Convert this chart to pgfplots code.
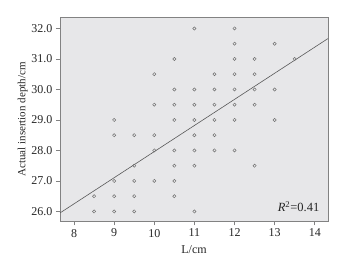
\documentclass[border=0pt]{standalone}
\usepackage{fontspec}
\setmainfont{Liberation Serif}
\usepackage{pgfplots}
\pgfplotsset{compat=1.18}
\definecolor{bg}{RGB}{231,231,233}
\definecolor{fr}{RGB}{130,130,130}
\definecolor{pt}{RGB}{110,110,110}
\begin{document}
\begin{tikzpicture}[x=1pt,y=1pt]
\begin{axis}[
  scale only axis,
  width=268pt, height=204pt,
  xmin=7.65, xmax=14.33,
  ymin=25.67, ymax=32.36,
  xtick={8,9,...,14},
  ytick={26,27,...,32},
  yticklabel style={/pgf/number format/.cd,fixed,fixed zerofill,precision=1},
  /pgf/number format/assume math mode=true,
  tick align=outside,
  tick pos=left,
  major tick length=4pt,
  tick style={fr, line width=0.6pt},
  axis line style={fr, line width=0.7pt},
  axis background/.style={fill=bg},
  ticklabel style={font=\fontsize{12}{14}\selectfont, text=black!85},
  xlabel={L/cm},
  ylabel={Actual insertion depth/cm},
  label style={font=\fontsize{11}{13}\selectfont, text=black!85},
  xlabel style={yshift=-2pt, font=\fontsize{12}{14}\selectfont},
  ylabel style={yshift=-3pt},
  clip=true,
]
\addplot[only marks, mark=o, mark size=1.6pt, mark options={pt, line width=0.5pt}] coordinates {
(8.5,26.5) (8.5,26)
(9,29) (9,28.5) (9,27) (9,26.5) (9,26)
(9.5,28.5) (9.5,27.5) (9.5,27) (9.5,26.5) (9.5,26)
(10,30.5) (10,29.5) (10,28.5) (10,28) (10,27)
(10.5,31) (10.5,30) (10.5,29.5) (10.5,29) (10.5,28) (10.5,27.5) (10.5,27) (10.5,26.5)
(11,32) (11,30) (11,29.5) (11,29) (11,28.5) (11,28) (11,27.5) (11,26)
(11.5,30.5) (11.5,30) (11.5,29.5) (11.5,29) (11.5,28.5) (11.5,28)
(12,32) (12,31.5) (12,31) (12,30.5) (12,30) (12,29.5) (12,29) (12,28)
(12.5,31) (12.5,30.5) (12.5,30) (12.5,29.5) (12.5,27.5)
(13,31.5) (13,30) (13,29)
(13.5,31)
};
\addplot[draw=black!65, line width=0.6pt] coordinates {(7.65,25.95) (14.33,31.67)};
\node[anchor=east, font=\fontsize{12.5}{14}\selectfont, text=black!85] at (axis cs:14.2,26.16) {\textit{R}\textsuperscript{2}=0.41};
\end{axis}
\path (current axis.south west) ++(-60pt,-42.3pt) coordinate (bbsw);
\path (current axis.north east) ++(21pt,17.5pt) coordinate (bbne);
\path (bbsw) rectangle (bbne);
\end{tikzpicture}
\end{document}
